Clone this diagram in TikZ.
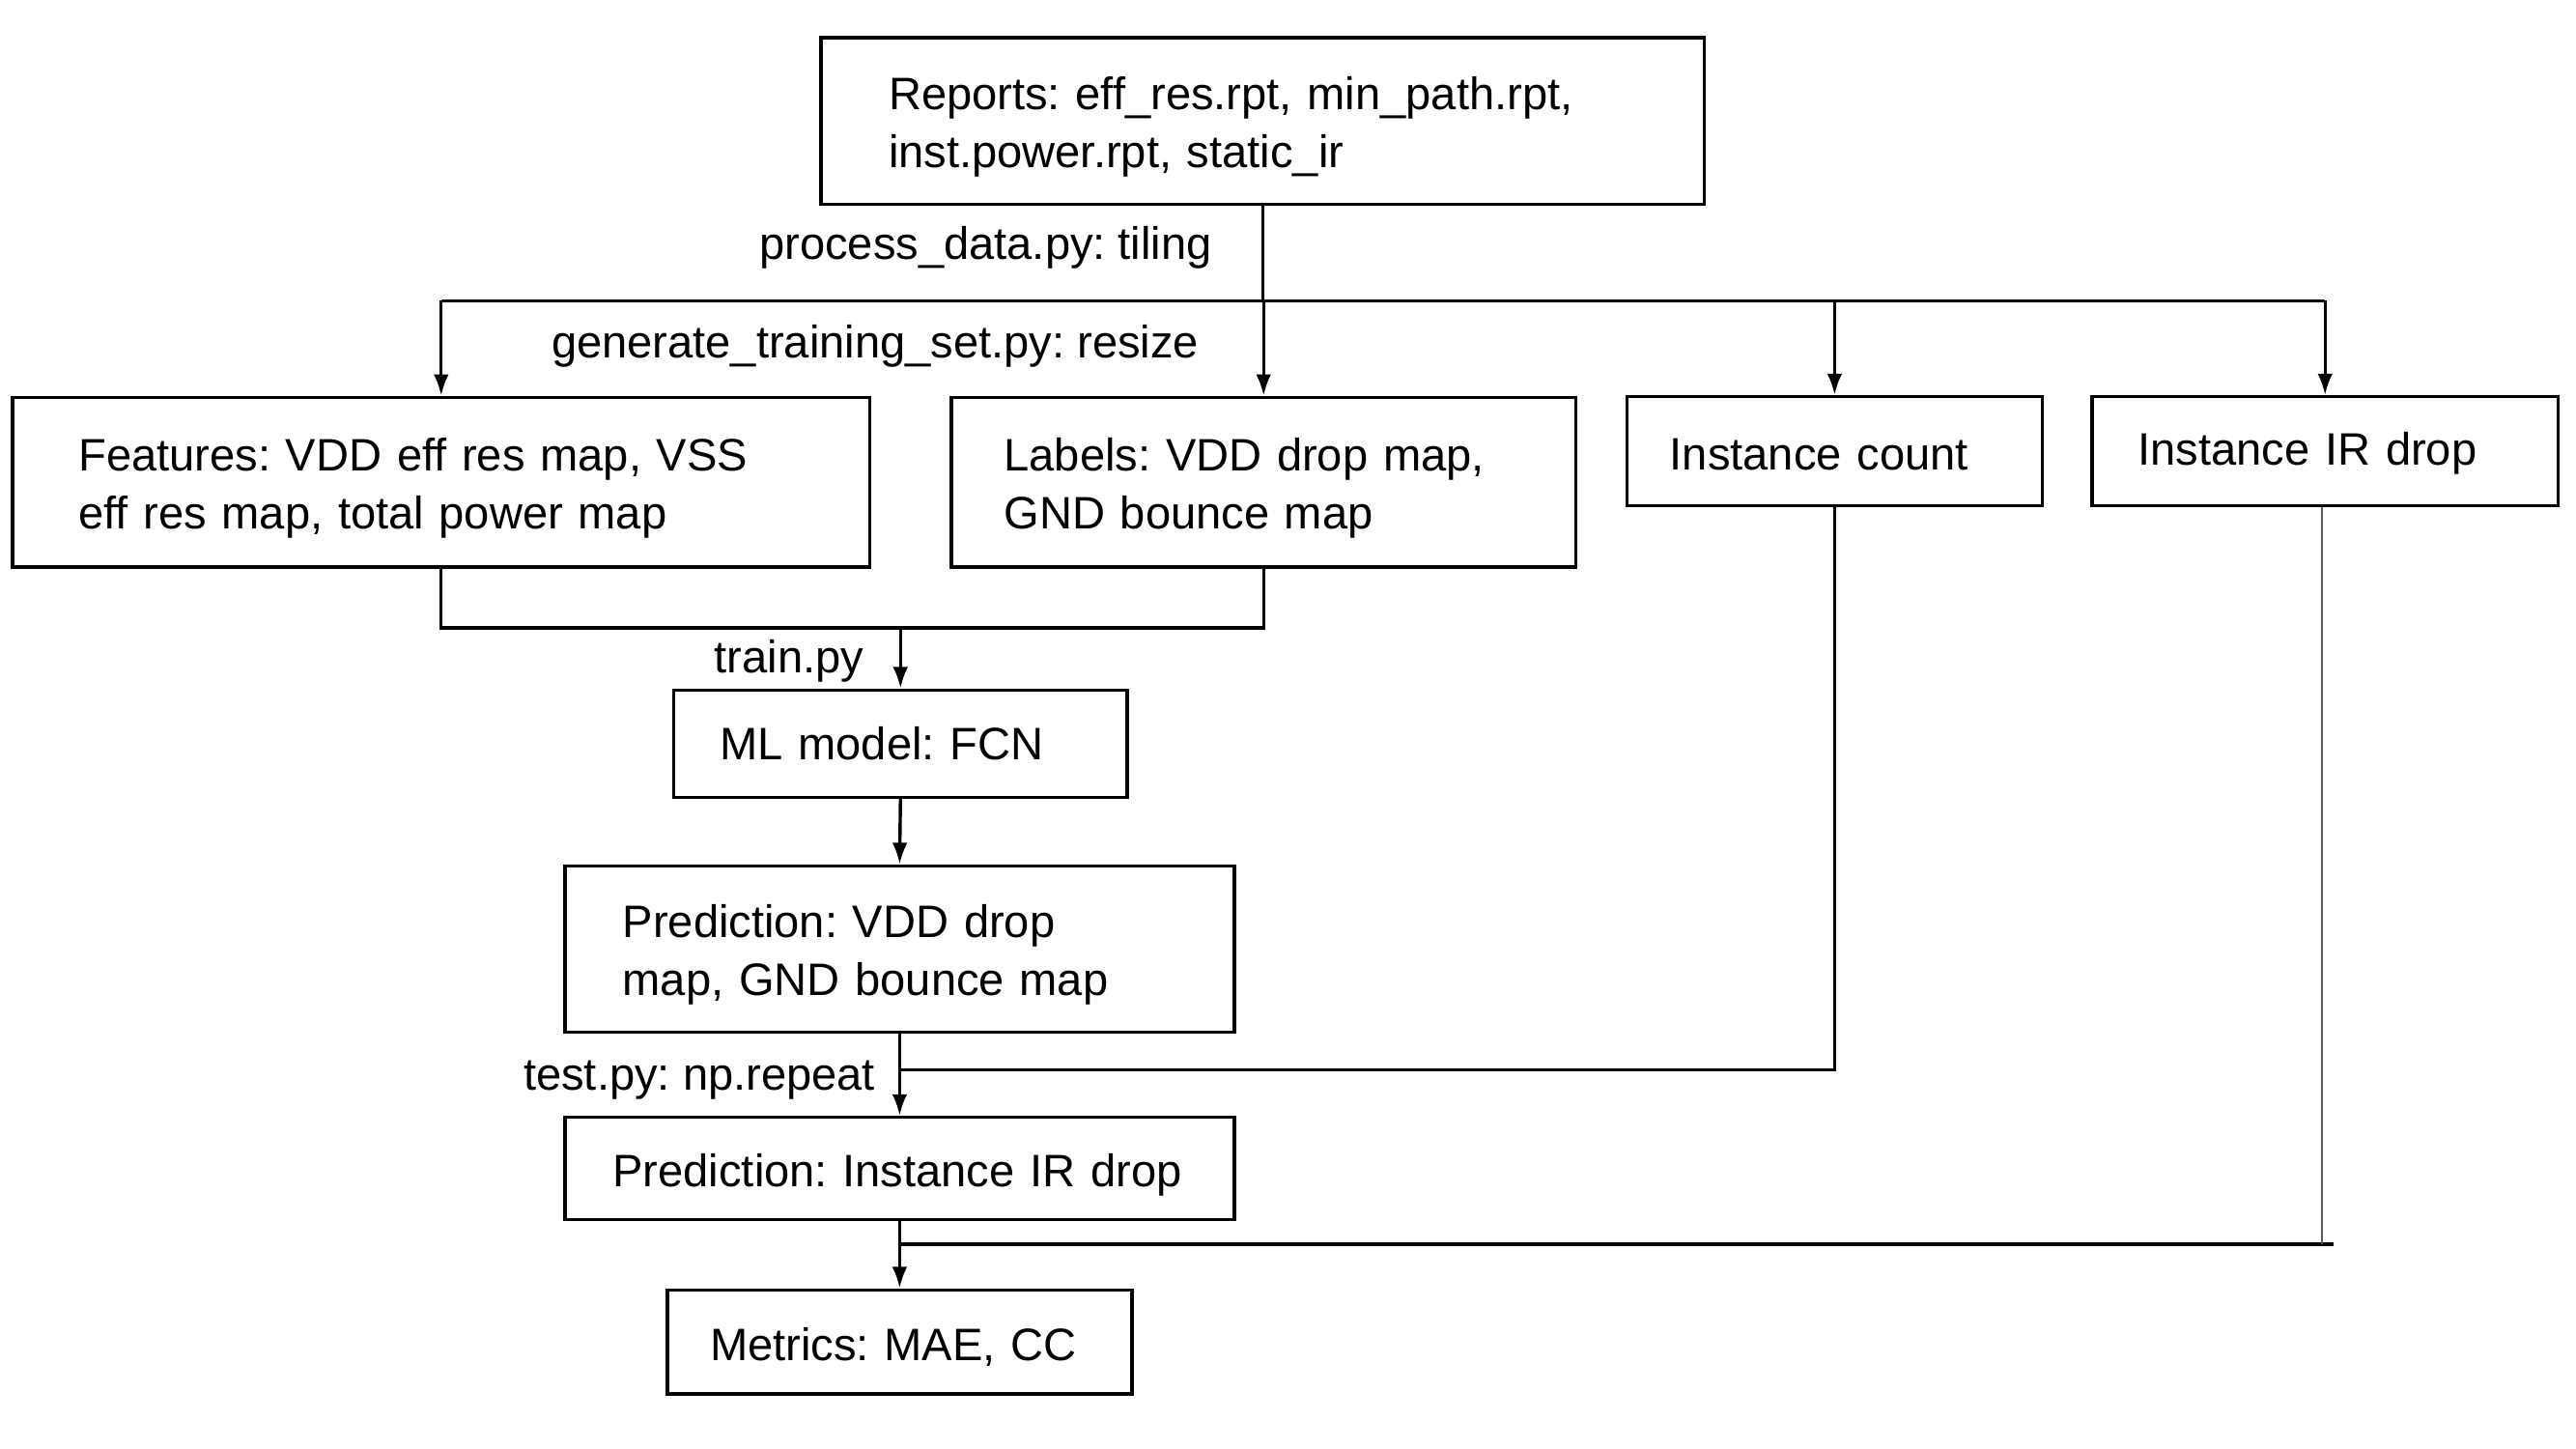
\documentclass[tikz,border=0pt]{standalone}
\usepackage{fontspec}
\setmainfont{Liberation Sans}
\usetikzlibrary{arrows.meta}
\begin{document}
\frenchspacing
\begin{tikzpicture}[x=0.4985pt,y=-0.4985pt,
  box/.style={draw=black, line width=1pt, rectangle, align=left, inner ysep=0pt,
    font=\fontsize{13.8}{17.5}\selectfont},
  conn/.style={line width=1pt},
  arr/.style={conn,-{Latex[length=6.5pt,width=4.6pt]}},
  lbl/.style={font=\fontsize{13.8}{17.5}\selectfont, inner sep=0pt, yshift=-1.2pt}
]
\useasboundingbox[fill=white] (0,0) rectangle (1567.7,881.6);

% boxes
\node[box, minimum width=268pt, minimum height=50.5pt, inner xsep=20.5pt, text width=227pt] (rep) at (768.5,73.5)
  {\mbox{\rule{0pt}{13.5pt}Reports: eff\_res.rpt, min\_path.rpt,}\\\mbox{inst.power.rpt, static\_ir}};
\node[box, minimum width=260pt, minimum height=51.5pt, inner xsep=20pt, text width=220pt] (feat) at (268.5,293.5)
  {\mbox{\rule{0pt}{13.5pt}Features: VDD eff res map, VSS}\\\mbox{eff res map, total power map}};
\node[box, minimum width=189.5pt, minimum height=51.5pt, inner xsep=16pt, text width=157.5pt] (lab) at (769,293.5)
  {\mbox{\rule{0pt}{13.5pt}Labels: VDD drop map,}\\\mbox{GND bounce map}};
\node[box, minimum width=126pt, minimum height=33pt, inner xsep=13pt, text width=100pt] (icount) at (1116.5,274.5)
  {\mbox{\rule{0pt}{11.5pt}Instance count}};
\node[box, minimum width=141.5pt, minimum height=33pt, inner xsep=14pt, text width=113.5pt] (irdrop) at (1415,274.5)
  {\mbox{\rule{0pt}{11.5pt}Instance IR drop}};
\node[box, minimum width=137.5pt, minimum height=32.5pt, inner xsep=14pt, text width=109.5pt] (ml) at (548,452.5)
  {\mbox{ML model: FCN}};
\node[box, minimum width=203pt, minimum height=50.5pt, inner xsep=17.5pt, text width=168pt] (pred1) at (547.5,577.5)
  {\mbox{\rule{0pt}{13.5pt}Prediction: VDD drop}\\\mbox{map, GND bounce map}};
\node[box, minimum width=203pt, minimum height=31pt, inner xsep=14.5pt, text width=174pt] (pred2) at (547.5,711)
  {\mbox{\rule{0pt}{14pt}Prediction: Instance IR drop}};
\node[box, minimum width=141pt, minimum height=31.5pt, inner xsep=13pt, text width=115pt] (met) at (547.5,816.5)
  {\mbox{\rule{0pt}{13pt}Metrics: MAE, CC}};

% connector labels
\node[lbl, anchor=east] (tproc) at (738,148) {process\_data.py: tiling};
\node[lbl, anchor=east] (tgen) at (730,208) {generate\_training\_set.py: resize};
\node[lbl, anchor=east] (ttrain) at (526,400) {train.py};
\node[lbl, anchor=east] (ttest) at (533,655) {test.py: np.repeat};

% connectors
\coordinate (split) at (768.5,183);
\draw[conn] (rep.south) -- (split);
\draw[conn] (feat.north |- split) -- (irdrop.north |- split);
\draw[arr] (feat.north |- split) -- (feat.north);
\draw[arr] (lab.north |- split) -- (lab.north);
\draw[arr] (icount.north |- split) -- (icount.north);
\draw[arr] (irdrop.north |- split) -- (irdrop.north);

\coordinate (merge) at (548,382);
\draw[conn] (feat.south) -- (feat.south |- merge) -- (lab.south |- merge) -- (lab.south);
\draw[arr] (merge) -- (ml.north);
\draw[arr] (ml.south) -- (pred1.north);
\draw[arr] (pred1.south) -- (pred2.north);
\coordinate (rep1) at (547.5,651);
\draw[conn] (icount.south) -- (icount.south |- rep1) -- (rep1);
\draw[arr] (pred2.south) -- (met.north);
\coordinate (ev) at (547.5,757);
\coordinate (evr) at (1420,757);
\draw[conn] (ev) -- (evr);
\draw[line width=0.4pt, black!65] ([xshift=-1pt]irdrop.south) -- ([xshift=-1pt]irdrop.south |- ev);
\end{tikzpicture}
\end{document}
